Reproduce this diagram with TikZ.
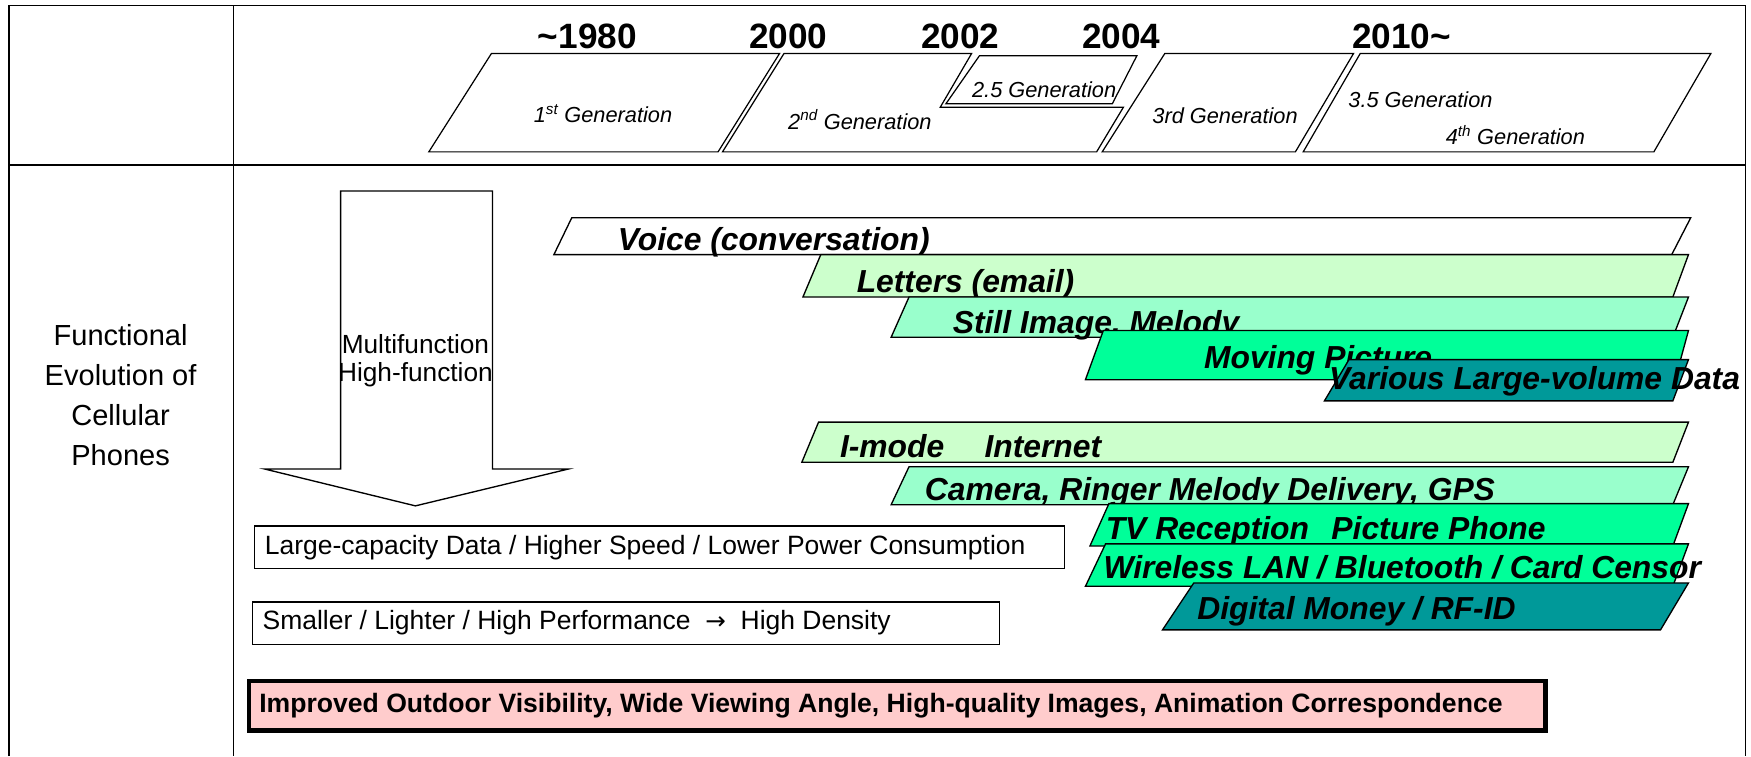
\documentclass[tikz,border=0pt]{standalone}
\usepackage{fontspec}
\setmainfont{Liberation Sans}
\newfontfamily\arrowfont{DejaVu Sans}
\definecolor{lgreen}{RGB}{204,255,204}
\definecolor{mgreen}{RGB}{153,255,204}
\definecolor{sgreen}{RGB}{0,255,153}
\definecolor{tealc}{RGB}{0,153,153}
\definecolor{pinkc}{RGB}{255,204,204}
\tikzset{
  frameline/.style={line width=1.6pt},
  genshape/.style={draw, line width=1.1pt, fill=white, line join=miter},
  genlabel/.style={font=\itshape\fontsize{19.5}{22}\selectfont, inner sep=0},
  yearlabel/.style={font=\bfseries\fontsize{31.5}{33}\selectfont, inner sep=0},
  barshape/.style={draw, line width=1.2pt, line join=miter},
  bartext/.style={font=\bfseries\itshape\fontsize{28.5}{30}\selectfont, inner sep=0, anchor=base west},
  plainbox/.style={draw, line width=1.2pt, fill=white},
  boxtext/.style={font=\fontsize{23.7}{25}\selectfont, inner sep=0, anchor=west},
}
\begin{document}
\begin{tikzpicture}[x=1pt,y=-1pt]
\useasboundingbox (0,0) rectangle (1568,677);
% frame
\draw[frameline] (8,677) -- (8,5) -- (1563,5) -- (1563,677);
\draw[frameline] (8,148) -- (1563,148);
\draw[frameline] (209,5) -- (209,677);
% years
\node[yearlabel] (y1980) at (526,33) {\textasciitilde 1980};
\node[yearlabel] (y2000) at (706,33) {2000};
\node[yearlabel] (y2002) at (860,33) {2002};
\node[yearlabel] (y2004) at (1004,33) {2004};
\node[yearlabel] (y2010) at (1255,33) {2010\textasciitilde};
% generations
\path[genshape] (440,48) -- (698,48) -- (643,136) -- (384,136) -- cycle;
\path[genshape] (702,48) -- (870,48) -- (842,96) -- (1006,96) -- (982,136) -- (647,136) -- cycle;
\path[genshape] (877,50) -- (1018,50) -- (996,93) -- (847,93) -- cycle;
\path[genshape] (1043,48) -- (1212,48) -- (1160,136) -- (987,136) -- cycle;
\path[genshape] (1218,48) -- (1532,48) -- (1481,136) -- (1167,136) -- cycle;
\node[genlabel] (g1) at (540,102) {1\textsuperscript{st} Generation};
\node[genlabel] (g2) at (770,107) {2\textsuperscript{nd} Generation};
\node[genlabel] (g25) at (935,80) {2.5 Generation};
\node[genlabel] (g3) at (1097,104) {3rd Generation};
\node[genlabel] (g35) at (1272,89) {3.5 Generation};
\node[genlabel] (g4) at (1357,121) {4\textsuperscript{th} Generation};
% left label
\node[align=center, font=\fontsize{26}{36}\selectfont, inner sep=0] (func) at (108,354) {Functional\\Evolution of\\Cellular\\Phones};
% big arrow
\draw[line width=1.2pt, fill=white, line join=miter] (305,171) -- (441,171) -- (441,420) -- (509,420) -- (372,453) -- (237,420) -- (305,420) -- cycle;
\node[align=center, font=\fontsize{23.5}{25}\selectfont, inner sep=0] (multi) at (372,323) {Multifunction\\High-function};
% bars group 1
\path[barshape, fill=white] (512,195) -- (1514,195) -- (1497,228) -- (496,228) -- cycle;
\node[bartext] (voice) at (553,224) {Voice (conversation)};
\path[barshape, fill=lgreen] (735,228) -- (1512,228) -- (1498,266) -- (719,266) -- cycle;
\node[bartext] (letters) at (767,262) {Letters (email)};
\path[barshape, fill=mgreen] (814,266) -- (1512,266) -- (1498,302) -- (798,302) -- cycle;
\node[bartext] (still) at (853,299) {Still Image, Melody};
\path[barshape, fill=sgreen] (988,296) -- (1512,296) -- (1500,340) -- (972,340) -- cycle;
\node[bartext] (moving) at (1078,330) {Moving Picture};
\path[barshape, fill=tealc] (1208,322) -- (1512,322) -- (1498,359) -- (1186,359) -- cycle;
\node[bartext] (various) at (1190,349) {Various Large-volume Data};
% bars group 2
\path[barshape, fill=lgreen] (733,378) -- (1512,378) -- (1498,414) -- (718,414) -- cycle;
\node[bartext] (imode) at (752,410) {I-mode\hspace{36pt}Internet};
\path[barshape, fill=mgreen] (814,418) -- (1512,418) -- (1498,452) -- (798,452) -- cycle;
\node[bartext] (camera) at (828,448) {Camera, Ringer Melody Delivery, GPS};
\path[barshape, fill=sgreen] (993,451) -- (1512,451) -- (1498,489) -- (976,489) -- cycle;
\node[bartext] (tv) at (990,483) {TV Reception\hspace{20pt}Picture Phone};
\path[barshape, fill=sgreen] (990,487) -- (1512,487) -- (1498,525) -- (972,525) -- cycle;
\node[bartext] (wireless) at (988,518) {Wireless LAN / Bluetooth / Card Censor};
\path[barshape, fill=tealc] (1069,522) -- (1512,522) -- (1487,564) -- (1041,564) -- cycle;
\node[bartext] (digital) at (1072,555) {Digital Money / RF-ID};
% boxes
\draw[plainbox] (228,471) rectangle (953,509);
\node[boxtext] (cap) at (237,490) {Large-capacity Data / Higher Speed / Lower Power Consumption};
\draw[plainbox] (226,539) rectangle (895,577);
\node[boxtext] (small) at (235,558) {Smaller / Lighter / High Performance \ {\arrowfont\fontsize{22}{22}\selectfont →}\ \ High Density};
\draw[line width=4pt, fill=pinkc] (223,610) rectangle (1384,654);
\node[font=\bfseries\fontsize{23.8}{25}\selectfont, anchor=west, inner sep=0] (pink) at (232,632) {Improved Outdoor Visibility, Wide Viewing Angle, High-quality Images, Animation Correspondence};
\end{tikzpicture}
\end{document}
